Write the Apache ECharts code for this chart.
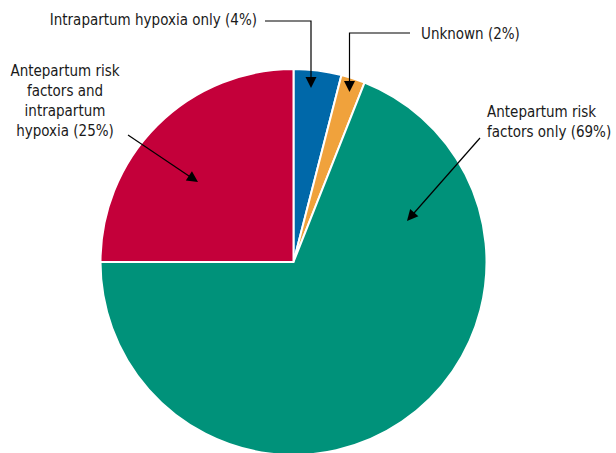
<!DOCTYPE html>
<html><head><meta charset="utf-8">
<script src="https://cdn.jsdelivr.net/npm/echarts@6/dist/echarts.min.js"></script>
<style>html,body{margin:0;padding:0;background:#fff}#c{width:616px;height:453px}</style>
</head><body><div id="c"></div>
<script>
const categories = ['Intrapartum hypoxia only', 'Unknown', 'Antepartum risk factors only', 'Antepartum risk factors and intrapartum hypoxia'];
const labels = ['Intrapartum hypoxia only (4%)', 'Unknown (2%)', 'Antepartum risk\nfactors only (69%)', 'Antepartum risk\nfactors and\nintrapartum\nhypoxia (25%)'];
const values = [4, 2, 69, 25];
const colors = ['#0068A9', '#F0A23C', '#00927A', '#C4003A'];

const FONT = "'Liberation Sans Narrow', 'DejaVu Sans Condensed', sans-serif";
const labelPos = [
  {x: 257, y: 20, align: 'right', verticalAlign: 'middle'},
  {x: 421, y: 34, align: 'left', verticalAlign: 'middle'},
  {x: 487, y: 122, align: 'left', verticalAlign: 'middle'},
  {x: 65, y: 101, align: 'center', verticalAlign: 'middle'}
];

const chart = echarts.init(document.getElementById('c'), null, {renderer: 'svg'});
const arrowStyle = {stroke: '#000', lineWidth: 1.2, fill: null};
function head(x, y, ang) {
  const L = 11, W = 5.5;
  const c = Math.cos(ang), s = Math.sin(ang);
  const bx = x - L * c, by = y - L * s;
  return {type: 'polygon', shape: {points: [[x, y], [bx - W * s, by + W * c], [bx + W * s, by - W * c]]}, style: {fill: '#000'}, z: 100};
}
function arrow(pts) {
  const n = pts.length;
  const a = Math.atan2(pts[n-1][1] - pts[n-2][1], pts[n-1][0] - pts[n-2][0]);
  const end = [pts[n-1][0] - 6 * Math.cos(a), pts[n-1][1] - 6 * Math.sin(a)];
  const p2 = pts.slice(0, n-1).concat([end]);
  return [{type: 'polyline', shape: {points: p2}, style: arrowStyle, z: 100}, head(pts[n-1][0], pts[n-1][1], a)];
}
const graphics = [].concat(
  arrow([[265, 21], [311, 21], [311, 88]]),
  arrow([[410, 33], [349.5, 33], [349.5, 92]]),
  arrow([[480, 138], [407, 221]]),
  arrow([[128, 135], [198, 182]])
);

chart.setOption({
  animation: false,
  backgroundColor: '#fff',
  graphic: graphics,
  series: [{
    type: 'pie',
    center: [293.5, 262],
    radius: [0, 193],
    startAngle: 90,
    clockwise: true,
    avoidLabelOverlap: false,
    data: categories.map((c, i) => ({name: c, value: values[i], itemStyle: {color: colors[i]}, label: {formatter: labels[i], align: labelPos[i].align}})),
    itemStyle: {borderColor: '#fff', borderWidth: 2},
    label: {show: true, position: 'outside', alignTo: 'none', overflow: 'none', color: '#1a1a1a', fontFamily: FONT, fontSize: 15, lineHeight: 20},
    labelLine: {show: false},
    labelLayout: function (p) { return labelPos[p.dataIndex]; },
    emphasis: {disabled: true}
  }]
});
</script></body></html>
